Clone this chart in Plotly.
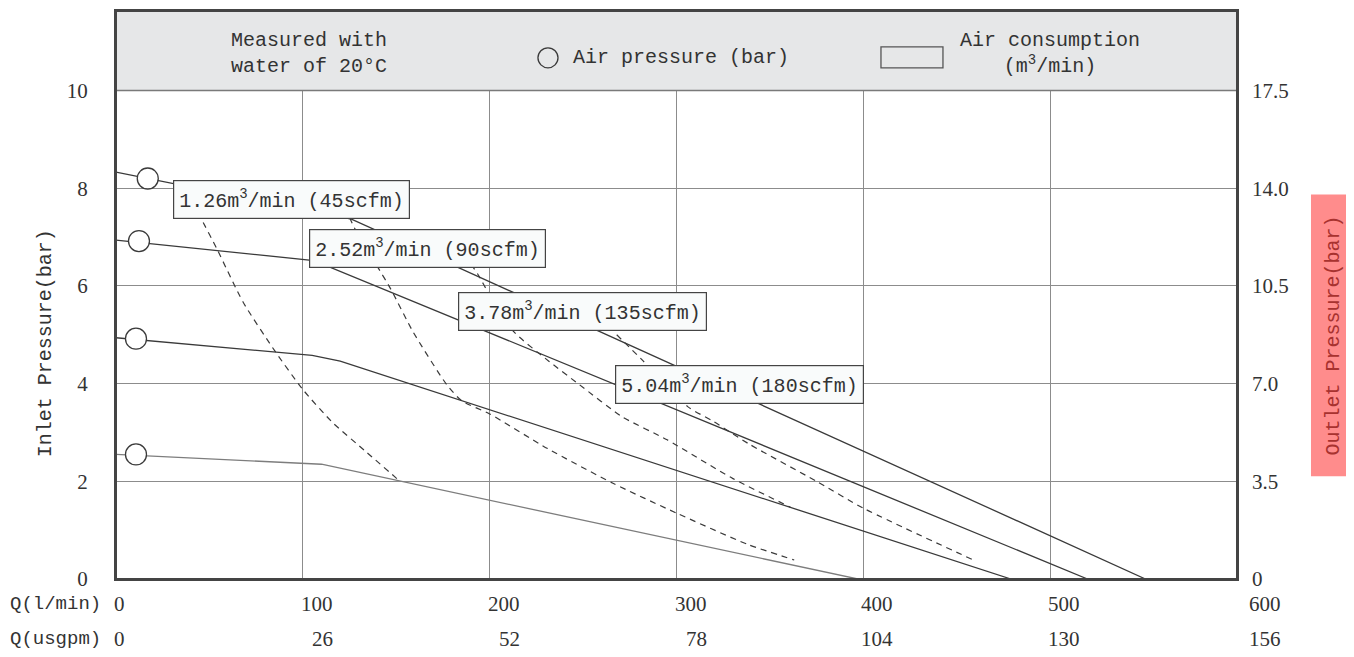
import plotly.graph_objects as go

# ---------------- data ----------------
flow_ticks = [0, 100, 200, 300, 400, 500, 600]          # Q (l/min)
usgpm_ticks = ["0", "26", "52", "78", "104", "130", "156"]
inlet_ticks = [0, 2, 4, 6, 8, 10]
outlet_ticks = [0, 3.5, 7.0, 10.5, 14.0, 17.5]
outlet_text = ["0", "3.5", "7.0", "10.5", "14.0", "17.5"]

# solid curves: air pressure levels (Q l/min, inlet bar)
p8_q = [0, 126, 551]
p8_p = [8.33, 7.37, 0]
p7_q = [0, 106, 520]
p7_p = [6.94, 6.52, 0]
p5_q = [0, 105, 120, 479]
p5_p = [4.94, 4.58, 4.46, 0]
p25_q = [0, 110, 397]
p25_p = [2.55, 2.35, 0]

# air-pressure markers
marker_q = [17, 12.3, 10.7, 10.7]
marker_p = [8.2, 6.92, 4.92, 2.55]

# dashed curves: air consumption
c1_q = [44, 46, 54, 68, 85, 100, 116, 134, 152]
c1_p = [7.5, 7.35, 6.76, 5.67, 4.67, 3.88, 3.2, 2.6, 2.0]
c2_q = [125, 128, 147, 159, 177, 185, 200, 231, 266, 300, 338, 363]
c2_p = [7.4, 7.16, 5.94, 5.06, 3.98, 3.65, 3.38, 2.67, 1.96, 1.35, 0.71, 0.39]
c3_q = [190, 194, 199, 213, 232, 248, 271, 295, 330, 361]
c3_p = [6.45, 6.22, 5.88, 5.06, 4.45, 3.98, 3.32, 2.85, 2.06, 1.47]
c4_q = [268, 282, 306, 320, 339, 375, 400, 460]
c4_p = [5.0, 4.47, 3.53, 3.22, 2.76, 2.0, 1.45, 0.37]

label_text = ["1.26m<sup>3</sup>/min (45scfm)", "2.52m<sup>3</sup>/min (90scfm)",
              "3.78m<sup>3</sup>/min (135scfm)", "5.04m<sup>3</sup>/min (180scfm)"]
label_q = [93.7, 166.5, 249.5, 333.5]
label_p = [7.78, 6.76, 5.47, 3.99]

# ---------------- styling ----------------
MONO = "Liberation Mono"
SERIF = "Liberation Serif"
TXT = "#333333"
DARK = "#3a3a3a"
GRID = "#8c8c8c"
FRAME = "#444444"
YMAX = 11.63

fig = go.Figure()

for q, p, col in [(p8_q, p8_p, DARK), (p7_q, p7_p, DARK), (p5_q, p5_p, DARK), (p25_q, p25_p, "#7d7d7d")]:
    fig.add_trace(go.Scatter(x=q, y=p, mode="lines", line=dict(color=col, width=1.3),
                             hoverinfo="skip", showlegend=False))

for q, p in [(c1_q, c1_p), (c2_q, c2_p), (c3_q, c3_p), (c4_q, c4_p)]:
    fig.add_trace(go.Scatter(x=q, y=p, mode="lines",
                             line=dict(color=DARK, width=1.2, dash="6px,5px", shape="spline", smoothing=0.6),
                             hoverinfo="skip", showlegend=False))

fig.add_trace(go.Scatter(x=marker_q, y=marker_p, mode="markers",
                         marker=dict(symbol="circle", size=21, color="white",
                                     line=dict(color=DARK, width=1.3)),
                         hoverinfo="skip", showlegend=False))

# invisible trace to anchor right axis
fig.add_trace(go.Scatter(x=[0], y=[0], yaxis="y2", mode="markers", marker=dict(opacity=0),
                         hoverinfo="skip", showlegend=False))

annotations = []
for t, q, p in zip(label_text, label_q, label_p):
    annotations.append(dict(x=q, y=p, xref="x", yref="y", text=t, showarrow=False,
                            font=dict(family=MONO, size=20, color=TXT),
                            bgcolor="#f9fbfb", bordercolor=FRAME, borderwidth=1.2, borderpad=5))

# bottom two rows of flow labels
n = len(flow_ticks)
for i, (q, u) in enumerate(zip(flow_ticks, usgpm_ticks)):
    shift = 11 if i == 0 else (46 if i == n - 1 else 32)
    annotations.append(dict(x=q, y=-0.044, xref="x", yref="paper", text=str(q), showarrow=False,
                            xanchor="right", yanchor="middle", xshift=shift,
                            font=dict(family=SERIF, size=21, color=TXT)))
    annotations.append(dict(x=q, y=-0.105, xref="x", yref="paper", text=u, showarrow=False,
                            xanchor="right", yanchor="middle", xshift=shift,
                            font=dict(family=SERIF, size=21, color=TXT)))
annotations.append(dict(x=0, y=-0.044, xref="x", yref="paper", text="Q(l/min)", showarrow=False,
                        xanchor="right", yanchor="middle", xshift=-13,
                        font=dict(family=MONO, size=19, color=TXT)))
annotations.append(dict(x=0, y=-0.105, xref="x", yref="paper", text="Q(usgpm)", showarrow=False,
                        xanchor="right", yanchor="middle", xshift=-13,
                        font=dict(family=MONO, size=19, color=TXT)))

# header texts
annotations.append(dict(x=0.1008, y=0.926, xref="paper", yref="paper", text="Measured with<br>water of 20°C",
                        showarrow=False, xanchor="left", yanchor="middle", align="left",
                        font=dict(family=MONO, size=20, color=TXT)))
annotations.append(dict(x=0.4059, y=0.9175, xref="paper", yref="paper", text="Air pressure (bar)",
                        showarrow=False, xanchor="left", yanchor="middle",
                        font=dict(family=MONO, size=20, color=TXT)))
annotations.append(dict(x=0.833, y=0.926, xref="paper", yref="paper", text="Air consumption<br>(m<sup>3</sup>/min)",
                        showarrow=False, xanchor="center", yanchor="middle", align="center",
                        font=dict(family=MONO, size=20, color=TXT)))

# axis titles
annotations.append(dict(x=-0.0633, y=0.415, xref="paper", yref="paper", text="Inlet Pressure(bar)",
                        showarrow=False, textangle=-90, xanchor="center", yanchor="middle",
                        font=dict(family=MONO, size=20, color=TXT)))
annotations.append(dict(x=1.0857, y=0.4289, xref="paper", yref="paper", text="Outlet Pressure(bar)",
                        showarrow=False, textangle=-90, xanchor="center", yanchor="middle",
                        font=dict(family=MONO, size=20, color="#a8322f")))

shapes = [
    # header band (covers the grid)
    dict(type="rect", xref="paper", yref="y", x0=0, x1=1, y0=10, y1=YMAX,
         fillcolor="#e6e7e8", line=dict(width=0), layer="above"),
    # header bottom line
    dict(type="line", xref="paper", yref="y", x0=0, x1=1, y0=10, y1=10,
         line=dict(color="#7a7a7a", width=1.5), layer="above"),
    # frame
    dict(type="rect", xref="paper", yref="paper", x0=0, x1=1, y0=0, y1=1,
         line=dict(color=FRAME, width=2), fillcolor="rgba(0,0,0,0)", layer="above"),
    # legend circle
    dict(type="circle", xref="paper", yref="paper", x0=0.3764, x1=0.3943, y0=0.9, y1=0.935,
         line=dict(color=DARK, width=1.3), fillcolor="rgba(0,0,0,0)", layer="above"),
    # legend rectangle
    dict(type="rect", xref="paper", yref="paper", x0=0.6824, x1=0.7377, y0=0.9, y1=0.9368,
         line=dict(color="#555555", width=1.3), fillcolor="rgba(0,0,0,0)", layer="above"),
    # outlet pressure box
    dict(type="rect", xref="paper", yref="paper", x0=1.066, x1=1.1044, y0=0.1807, y1=0.677,
         fillcolor="#ff8c8c", line=dict(width=0), layer="below"),
]

# the page body has an 8px default margin, so the figure is sized to the remaining window
fig.update_layout(
    width=1346, height=649,
    margin=dict(l=108, r=117, t=1, b=78),
    paper_bgcolor="white", plot_bgcolor="white",
    showlegend=False,
    annotations=annotations,
    shapes=shapes,
    xaxis=dict(range=[0, 600], tickvals=flow_ticks, showticklabels=False, ticks="",
               showgrid=True, gridcolor=GRID, gridwidth=1, zeroline=False,
               showline=True, linecolor=FRAME, linewidth=2, mirror=True, fixedrange=True),
    yaxis=dict(range=[0, YMAX], tickvals=inlet_ticks, ticks="", ticklabelstandoff=22,
               tickfont=dict(family=SERIF, size=21, color=TXT),
               showgrid=True, gridcolor=GRID, gridwidth=1, zeroline=False,
               showline=True, linecolor=FRAME, linewidth=2, mirror=True, fixedrange=True),
    yaxis2=dict(range=[0, YMAX * 1.75], overlaying="y", side="right", tickvals=outlet_ticks,
                ticktext=outlet_text, ticks="", ticklabelstandoff=14,
                tickfont=dict(family=SERIF, size=21, color=TXT),
                showgrid=False, zeroline=False, showline=False, fixedrange=True),
)

fig.write_html("out.html")
